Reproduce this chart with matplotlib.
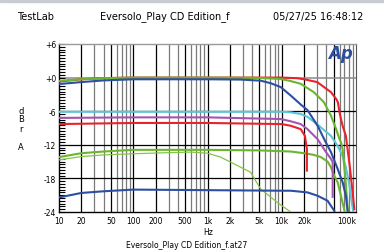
import matplotlib
matplotlib.use("Agg")
import matplotlib.pyplot as plt
from matplotlib.patches import Rectangle

# frequency response traces (Hz, dBrA)
red_top_f = [10, 20, 40, 100, 1000, 10000, 16000, 20000, 30000, 46000, 54000, 57000, 60000, 63000, 66000, 73000, 77000, 81000, 86000, 95000]
red_top_db = [-0.7, -0.3, -0.1, 0, 0, 0, -0.1, -0.3, -0.8, -2.6, -3.8, -4.4, -6.2, -7.5, -8.6, -10.4, -12.8, -15, -18, -23.5]

green_top_f = [10, 20, 40, 100, 1000, 5000, 9700, 13000, 18000, 27000, 37000, 46000, 54000, 60000, 63000, 66000, 72000, 78000]
green_top_db = [-0.6, -0.3, -0.1, 0, 0, -0.05, -0.25, -0.6, -1.1, -2.6, -4.4, -6.8, -9.2, -11, -11.6, -12.8, -18, -24]

blue_top_f = [10, 20, 40, 100, 1000, 2800, 5200, 7100, 9700, 13200, 18000, 22200, 30400, 37300, 41500, 46000, 56600, 66100, 73000, 77000]
blue_top_db = [-1.15, -0.8, -0.5, -0.3, -0.3, -0.35, -0.55, -1.0, -1.7, -3.2, -4.8, -5.8, -8.6, -11, -12.2, -13.3, -16.3, -18.7, -21.1, -23.8]

cyan_f = [10, 100, 1000, 10000, 13200, 18000, 22200, 30400, 37300, 46000, 56600, 66000, 73000, 81000, 86000, 92000]
cyan_db = [-6.1, -6.1, -6.1, -6.1, -6.2, -6.5, -7.0, -8.4, -9.4, -10.4, -12.2, -14, -16, -19, -21.5, -24]

purple_f = [10, 100, 1000, 9700, 13200, 18000, 22200, 30400, 39400, 46000, 48500, 48500]
purple_db = [-7.2, -7.1, -7.1, -7.4, -7.8, -8.3, -9.2, -11, -13.3, -14.5, -15.1, -21.3]

red_low_f = [10, 100, 1000, 10000, 13200, 18000, 20500, 21800, 21800]
red_low_db = [-8.3, -8.1, -8.1, -8.3, -8.6, -9.2, -10.4, -12.7, -16.6]

green_mid_f = [10, 20, 40, 100, 1000, 5000, 13200, 20000, 27000, 33650, 41500, 45900, 50900, 56600, 62700, 70000]
green_mid_db = [-14.2, -13.5, -13.2, -12.9, -12.9, -13.0, -13.2, -13.5, -13.8, -14.2, -15.0, -16, -17.5, -18.7, -21.1, -23.8]

green_low_f = [10, 20, 40, 100, 300, 600, 1000, 1500, 2800, 3800, 5200, 8750, 13200]
green_low_db = [-14.7, -14.1, -13.8, -13.6, -13.4, -13.3, -13.5, -14.2, -16, -16.9, -19.9, -22.3, -24]

blue_low_f = [10, 20, 40, 100, 1000, 10000, 13200, 22200, 30400, 41500, 51000]
blue_low_db = [-21.4, -20.6, -20.3, -20.0, -20.1, -20.2, -20.2, -20.5, -21.1, -22.0, -23.8]

x_ticks = [10, 20, 50, 100, 200, 500, 1000, 2000, 5000, 10000, 20000, 100000]
x_labels = ["10", "20", "50", "100", "200", "500", "1k", "2k", "5k", "10k", "20k", "100k"]
y_ticks = [6, 0, -6, -12, -18, -24]
y_labels = ["+6", "+0", "-6", "-12", "-18", "-24"]

RED = "#e8232b"
GREEN = "#6cb52f"
BLUE = "#2b4fa3"
CYAN = "#5ac6d8"
PURPLE = "#a555b0"

fig = plt.figure(figsize=(3.84, 2.51), dpi=100)
fig.patches.append(Rectangle((0, 1 - 3 / 251), 1, 3 / 251, transform=fig.transFigure,
                             color="#c8ccd0", zorder=0))
ax = fig.add_axes([59 / 384, 1 - 213 / 251, 297 / 384, 168 / 251])
ax.set_xscale("log")
ax.set_xlim(10, 100000)
ax.set_ylim(-24, 6)

# grid
for dec in [10, 100, 1000, 10000]:
    for m in range(1, 10):
        f = dec * m
        if f <= 10 or f >= 100000:
            continue
        c = "black" if m in (1, 2, 5) else "#7a7a7a"
        ax.axvline(f, color=c, lw=0.9, zorder=1)
ax.axhline(0, color="#8a8a8a", lw=1.1, zorder=1)
for yv in [-6, -12, -18]:
    ax.axhline(yv, color="black", lw=0.9, zorder=1)

ax.plot(green_low_f, green_low_db, color="#86c449", lw=0.9, zorder=3)
ax.plot(blue_low_f, blue_low_db, color=BLUE, lw=1.5, zorder=3)
ax.plot(green_mid_f, green_mid_db, color=GREEN, lw=1.5, zorder=3)
ax.plot(red_low_f, red_low_db, color=RED, lw=1.5, zorder=3)
ax.plot(purple_f, purple_db, color=PURPLE, lw=1.5, zorder=3)
ax.plot(cyan_f, cyan_db, color=CYAN, lw=1.5, zorder=3)
ax.plot(red_top_f, red_top_db, color=RED, lw=1.5, zorder=3)
ax.plot(green_top_f, green_top_db, color=GREEN, lw=1.5, zorder=3)
ax.plot(blue_top_f, blue_top_db, color=BLUE, lw=1.5, zorder=3)

ax.set_xticks(x_ticks)
ax.set_xticklabels(x_labels)
ax.xaxis.set_minor_locator(matplotlib.ticker.NullLocator())
ax.tick_params(axis="x", length=0, labelsize=5.5, pad=3)
ax.get_xticklabels()[-1].set_ha("right")

ax.set_yticks(y_ticks)
ax.set_yticklabels(y_labels)
ax.set_yticks([v * 0.5 for v in range(-48, 13)], minor=True)
ax.tick_params(axis="y", which="both", direction="in", length=4, width=0.8, labelsize=5.5, pad=2)

for s in ["left", "bottom"]:
    ax.spines[s].set_color("black")
    ax.spines[s].set_linewidth(1.0)
ax.spines["top"].set_color("#999999")
ax.spines["right"].set_color("#555555")
ax.spines["top"].set_linewidth(1.0)

ax.text(0.949, 0.945, "Ap", transform=ax.transAxes, ha="center", va="center",
        fontsize=12, fontweight="bold", style="italic", color="#2c4ea0", zorder=5)

fig.text(17 / 384, 1 - 17 / 251, "TestLab", fontsize=7, ha="left", va="center")
fig.text(165 / 384, 1 - 17 / 251, "Eversolo_Play CD Edition_f", fontsize=7, ha="center", va="center")
fig.text(318 / 384, 1 - 17 / 251, "05/27/25 16:48:12", fontsize=7, ha="center", va="center")

for ch, yp in zip("dBrA", [111, 120, 129, 147]):
    fig.text(21 / 384, 1 - yp / 251, ch, fontsize=6, ha="center", va="center")

fig.text(208 / 384, 1 - 233 / 251, "Hz", fontsize=5.5, ha="center", va="center")
fig.text(187 / 384, 1 - 246 / 251, "Eversolo_Play CD Edition_f.at27", fontsize=5.5, ha="center", va="center")

fig.savefig("out.png", dpi=100)
